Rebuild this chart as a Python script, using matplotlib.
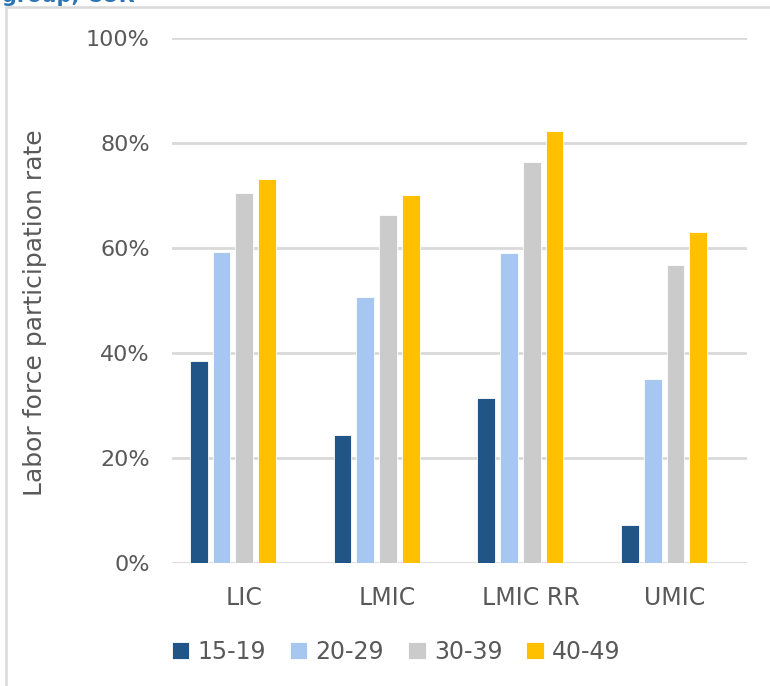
import matplotlib
matplotlib.use("Agg")
import matplotlib.pyplot as plt
from matplotlib.patches import Rectangle
import numpy as np

# Labor force participation rate by country income group and age group
categories = ["LIC", "LMIC", "LMIC RR", "UMIC"]
age_groups = ["15-19", "20-29", "30-39", "40-49"]
rate_15_19 = [38.5, 24.3, 31.4, 7.2]
rate_20_29 = [59.2, 50.7, 59.0, 35.0]
rate_30_39 = [70.5, 66.3, 76.3, 56.8]
rate_40_49 = [73.1, 70.0, 82.2, 62.9]
series = [rate_15_19, rate_20_29, rate_30_39, rate_40_49]
colors = ["#215487", "#A6C8F0", "#CBCBCB", "#FFC000"]
yticks = [0, 20, 40, 60, 80, 100]

plt.rcParams["font.family"] = ["DejaVu Sans"]
text_color = "#595959"
grid_color = "#D9D9D9"

fig = plt.figure(figsize=(7.70, 6.86), dpi=100)

# chart frame
fig.patches.append(Rectangle((6 / 770, -0.05), 1.2, 1 - 7 / 686 + 0.05,
                             transform=fig.transFigure, fill=False,
                             edgecolor=grid_color, linewidth=1.8, zorder=0))
# heading running off the top of the canvas
fig.text(2 / 770, 1 - 1.5 / 686, "group, CUR", color="#2E75B6", fontsize=15,
         fontweight="bold", ha="left", va="baseline")

ax = fig.add_axes([172 / 770, 1 - 562.7 / 686, 575 / 770, (562.7 - 37.7) / 686])

x = np.arange(len(categories))
bar_w = 0.123
pitch = 0.158
first = -0.5 + 0.125 + bar_w / 2
for j, (vals, col, lab) in enumerate(zip(series, colors, age_groups)):
    ax.bar(x + first + j * pitch, vals, width=bar_w, color=col,
           edgecolor="white", linewidth=0.6, label=lab, zorder=3)

ax.set_xlim(-0.5, 3.5)
ax.set_ylim(0, 100)
ax.set_yticks(yticks)
ax.set_yticklabels([f"{v}%" for v in yticks])
ax.set_xticks(x)
ax.set_xticklabels(categories)
ax.tick_params(axis="both", length=0, colors=text_color)
ax.tick_params(axis="y", pad=16, labelsize=16)
ax.tick_params(axis="x", pad=17, labelsize=17)
ax.yaxis.grid(True, color=grid_color, linewidth=2.0, zorder=0)
ax.set_axisbelow(True)
for s in ax.spines.values():
    s.set_visible(False)

ax.set_ylabel("Labor force participation rate", fontsize=18, color=text_color)
ax.yaxis.set_label_coords(-125 / 575, 0.5 - 12 / 525)

handles, labels = ax.get_legend_handles_labels()
fig.legend(handles, labels, loc="center", bbox_to_anchor=(396 / 770, 1 - 652 / 686),
           ncol=4, frameon=False, fontsize=17, labelcolor=text_color,
           handlelength=0.75, handleheight=0.75, handletextpad=0.35,
           columnspacing=1.0)

fig.savefig("out.png", dpi=100)
